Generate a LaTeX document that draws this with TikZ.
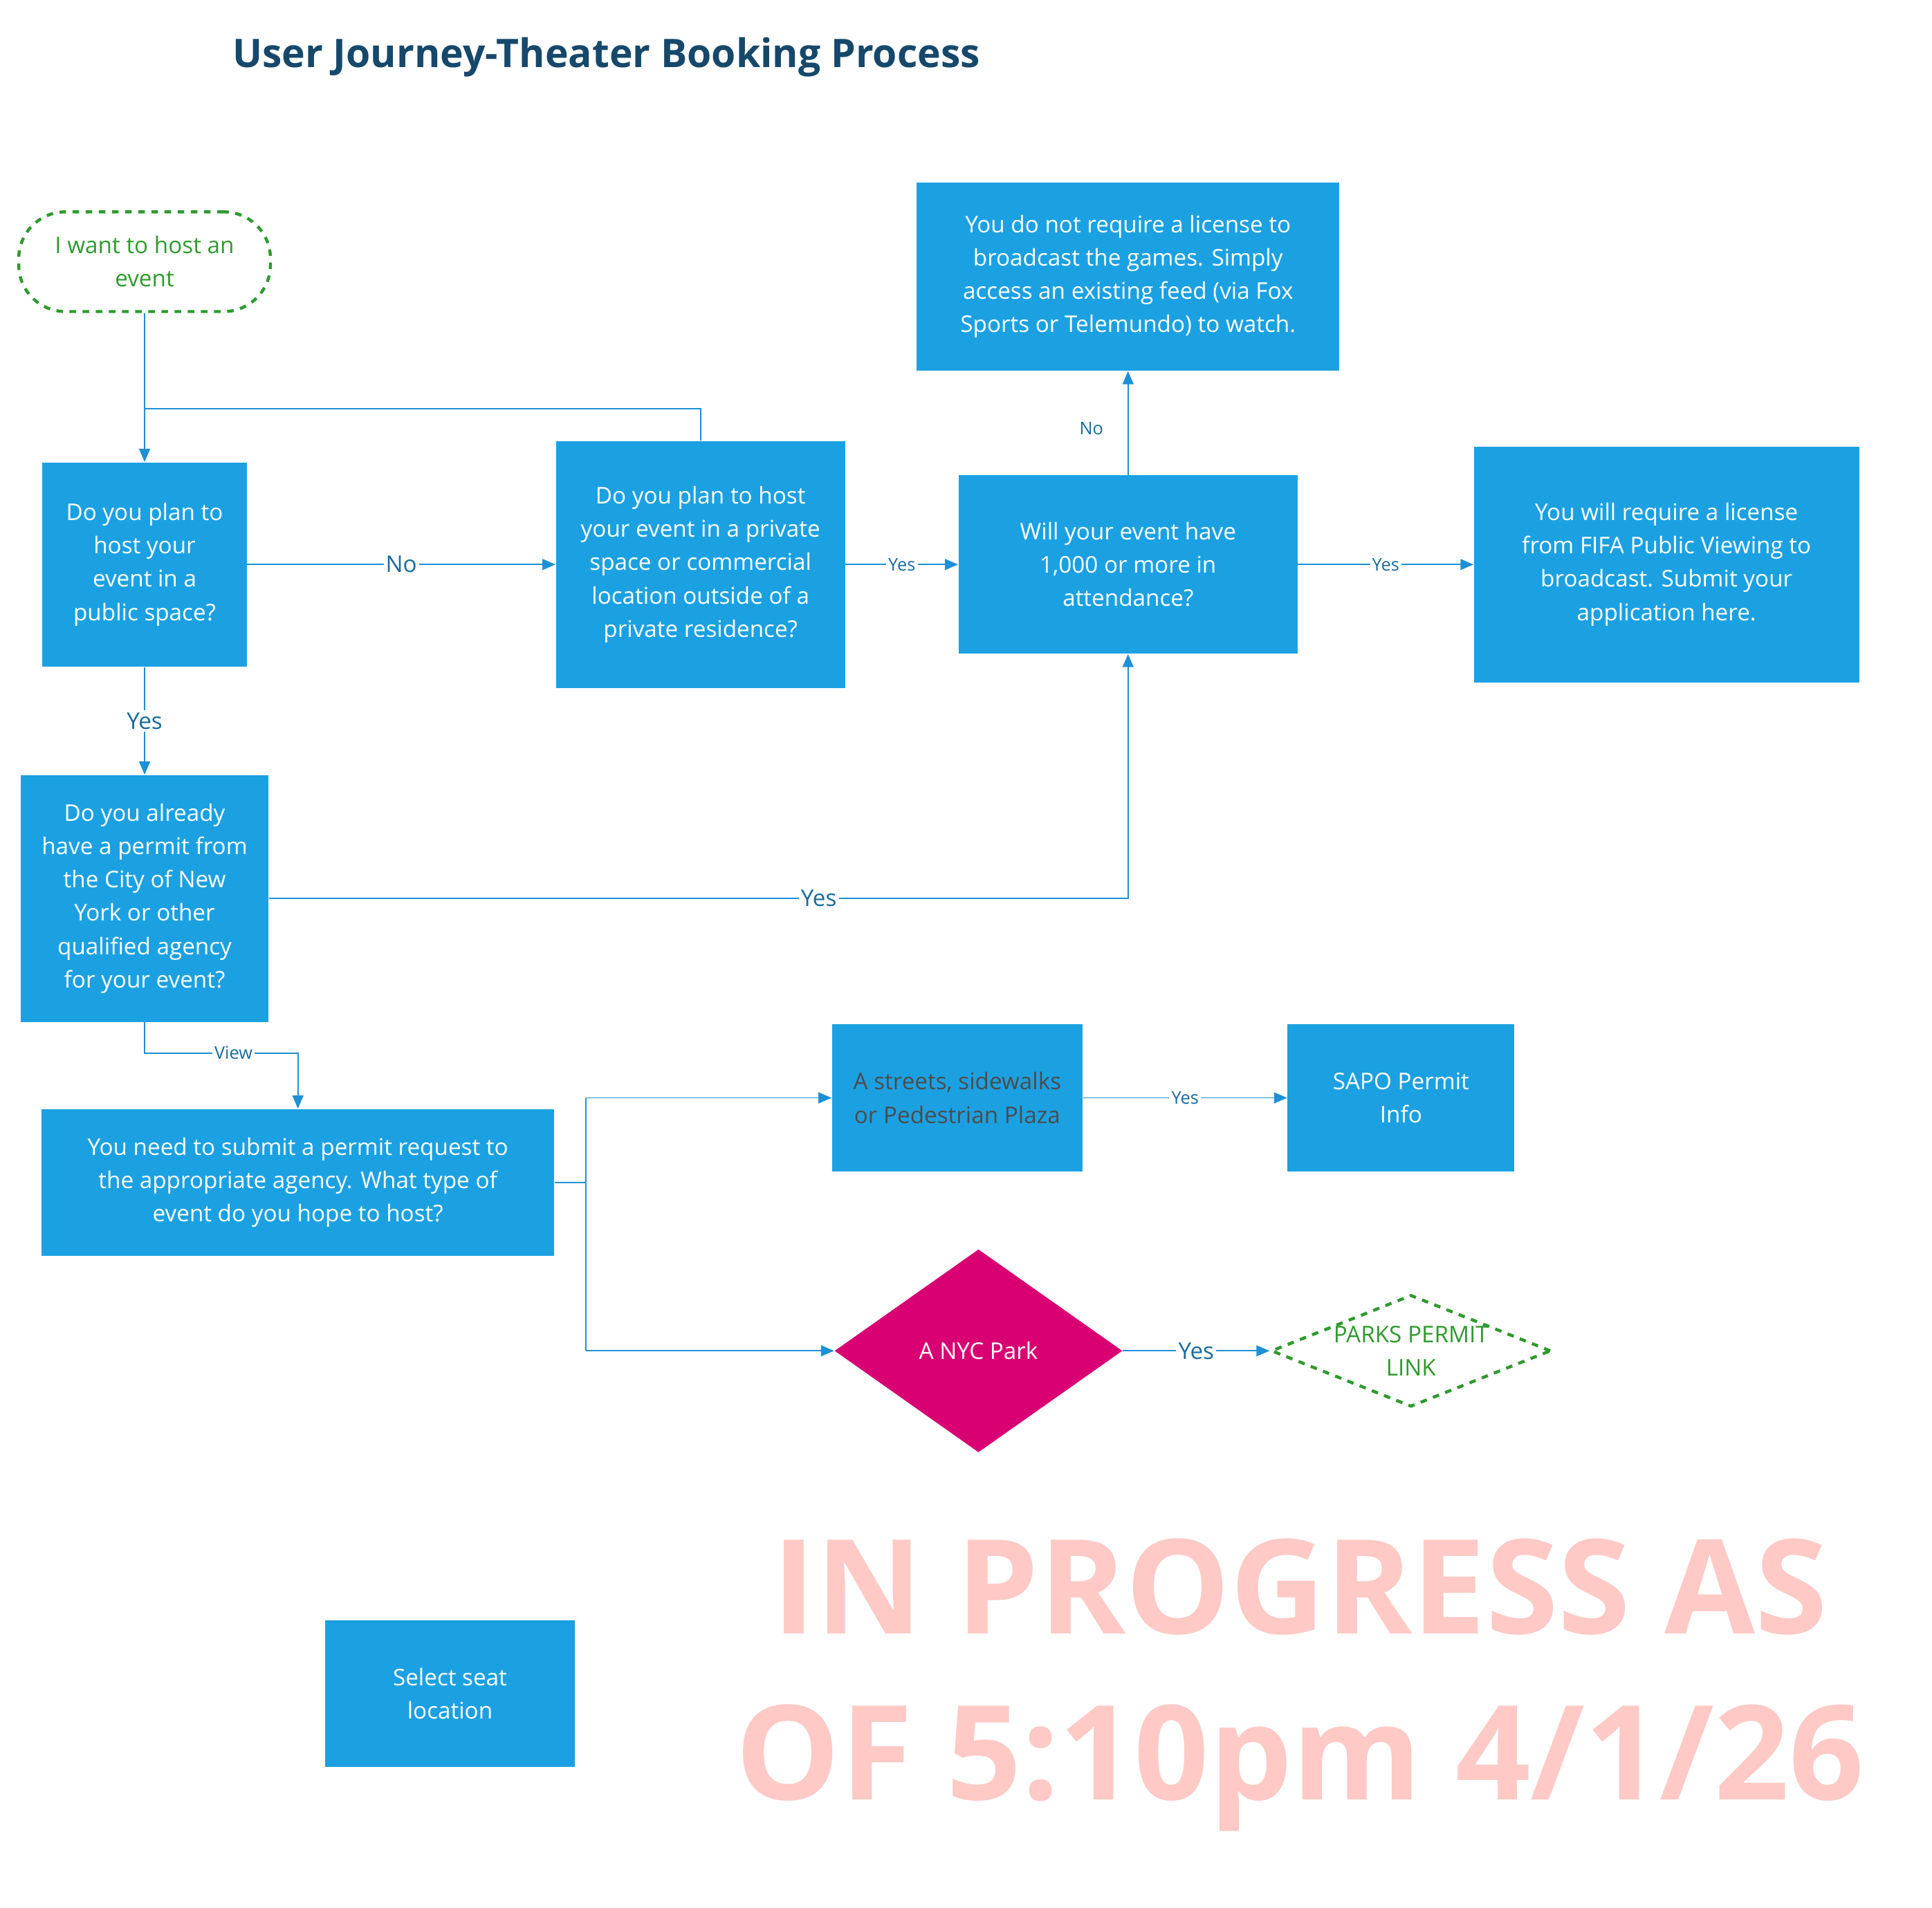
\documentclass[tikz,border=0pt]{standalone}
\usepackage{fontspec}
\setmainfont{Open Sans}
\usetikzlibrary{arrows.meta,positioning}
\usetikzlibrary{shapes.geometric}
\definecolor{boxblue}{HTML}{1BA1E2}
\definecolor{lineblue}{HTML}{1E90D6}
\definecolor{labelblue}{HTML}{1A6A9E}
\definecolor{titleblue}{HTML}{16486B}
\definecolor{startgreen}{HTML}{2E9A2E}
\definecolor{parkpink}{HTML}{D80073}
\definecolor{markpink}{HTML}{FFC9C5}
\tikzset{every picture/.style={/utils/exec={\fontsize{10.5}{15.2}\selectfont}}}
\begin{document}
\begin{tikzpicture}[x=0.02cm, y=-0.02cm]
  \tikzstyle{box} = [rectangle, fill=boxblue, text=white, align=center, inner sep=2pt]
  \tikzstyle{start} = [rectangle, rounded corners=0.75cm, draw=startgreen, dashed, line width=1.4pt, text=startgreen, align=center, minimum width=4.04cm, minimum height=1.6cm]
  \tikzstyle{arrow} = [draw=lineblue, line width=0.6pt, -{Triangle[length=6pt,width=5pt]}]
  \tikzstyle{line} = [draw=lineblue, line width=0.6pt]
  \tikzstyle{lbl} = [fill=white, text=labelblue, inner sep=1pt]
  \tikzstyle{small} = [fill=white, text=labelblue, inner sep=1pt, font=\fontsize{8}{9}\selectfont]

  \useasboundingbox (0,0) rectangle (1550,1531);

  \node (title) [text=titleblue, font=\fontsize{18}{21}\selectfont\bfseries, anchor=west] at (180,46) {User Journey-Theater Booking Process};

  \node (start) [start] at (116,210) {I want to host an\\event};
  \node (q1) [box, minimum width=3.28cm, minimum height=3.28cm] at (116,453) {Do you plan to\\host your\\event in a\\public space?};
  \node (q2) [box, minimum width=4.64cm, minimum height=3.96cm] at (562,453) {Do you plan to host\\your event in a private\\space or commercial\\location outside of a\\private residence?};
  \node (q3) [box, minimum width=5.44cm, minimum height=2.86cm] at (905,453) {Will your event have\\1,000 or more in\\attendance?};
  \node (nolic) [box, minimum width=6.78cm, minimum height=3.02cm] at (905,222) {You do not require a license to\\broadcast the games. Simply\\access an existing feed (via Fox\\Sports or Telemundo) to watch.};
  \node (req) [box, minimum width=6.18cm, minimum height=3.78cm] at (1337,453) {You will require a license\\from FIFA Public Viewing to\\broadcast. Submit your\\application here.};
  \node (q4) [box, minimum width=3.98cm, minimum height=3.96cm] at (116,721) {Do you already\\have a permit from\\the City of New\\York or other\\qualified agency\\for your event?};
  \node (submit) [box, minimum width=8.22cm, minimum height=2.36cm] at (239,949) {You need to submit a permit request to\\the appropriate agency. What type of\\event do you hope to host?};
  \node (streets) [box, text=black!70, minimum width=4.02cm, minimum height=2.36cm] at (768,881) {A streets, sidewalks\\or Pedestrian Plaza};
  \node (sapo) [box, minimum width=3.64cm, minimum height=2.36cm] at (1124,881) {SAPO Permit\\Info};
  \node (park) [diamond, fill=parkpink, text=white, aspect=1.42, inner sep=0pt, minimum width=4.62cm, minimum height=3.26cm] at (785,1084) {A NYC Park};
  \node (parks) [diamond, draw=startgreen, dashed, line width=1.4pt, text=startgreen, align=center, aspect=2.5, inner sep=0pt, minimum width=4cm, minimum height=1.6cm] at (1132,1084) {PARKS PERMIT\\LINK};
  \node (select) [box, minimum width=4cm, minimum height=2.36cm] at (361,1359) {Select seat\\location};

  \node (mark) [text=markpink, align=center, font=\fontsize{60}{76}\selectfont\bfseries] at (1043,1352) {IN PROGRESS AS\\OF 5:10pm 4/1/26};

  \coordinate (join) at (116,328);
  \coordinate (view1) at (116,845);
  \coordinate (view2) at (239,845);
  \coordinate (fork) at (470,949);
  \coordinate (forkup) at (470,881);
  \coordinate (forkdn) at (470,1084);

  \draw [arrow] (start) -- (q1);
  \draw [line] (q2.north) |- (join);
  \draw [arrow] (q1) -- node [lbl] {No} (q2);
  \draw [arrow] (q2) -- node [small] {Yes} (q3);
  \draw [arrow] (q3) -- node [small] {Yes} (req);
  \draw [arrow] (q3) -- node [small, pos=0.45, left=10pt] {No} (nolic);
  \draw [arrow] (q1) -- node [lbl] {Yes} (q4);
  \draw [arrow] (q4.east) -| node [lbl, pos=0.32] {Yes} (q3.south);
  \draw [arrow] (q4.south) -- (view1) -- node [small, pos=0.58] {View} (view2) -- (submit.north);
  \draw [line] (submit.east) -- (fork);
  \draw [arrow] (forkup) -- (streets.west);
  \draw [line] (fork) -- (forkup);
  \draw [line] (forkup) -- (forkdn);
  \draw [arrow] (forkdn) -- (park.west);
  \draw [arrow] (streets) -- node [small] {Yes} (sapo);
  \draw [arrow] (park) -- node [lbl] {Yes} (parks);
\end{tikzpicture}
\end{document}
